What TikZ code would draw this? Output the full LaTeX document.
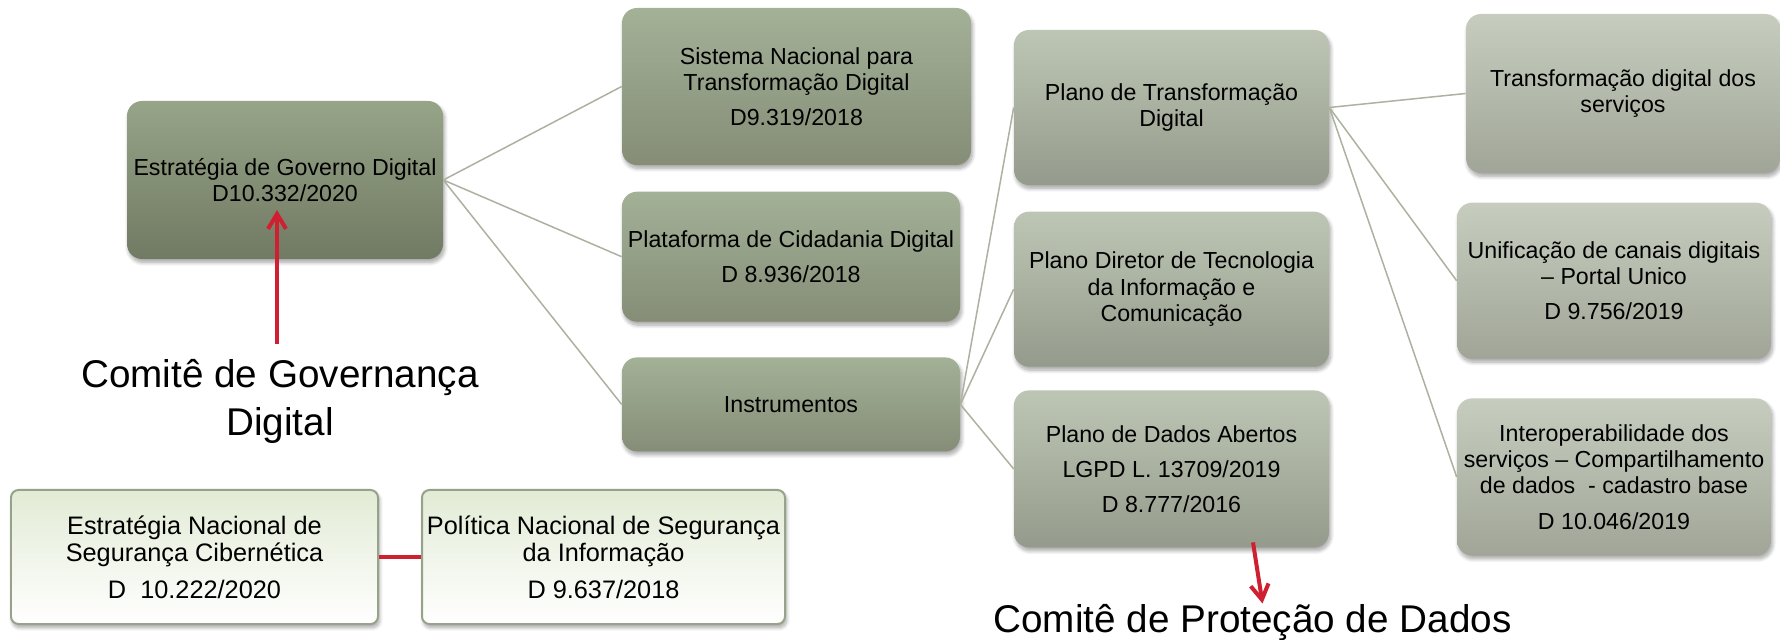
\documentclass[tikz,border=0pt]{standalone}
\usepackage{fontspec}
\setmainfont{Liberation Sans}
\usetikzlibrary{positioning,arrows.meta,shadows.blur}

\definecolor{olivetop}{RGB}{150,164,136}
\definecolor{olivebot}{RGB}{113,122,99}
\definecolor{sagetop}{RGB}{163,177,151}
\definecolor{sagebot}{RGB}{133,141,119}
\definecolor{greytop}{RGB}{189,198,180}
\definecolor{greybot}{RGB}{149,155,140}
\definecolor{paletop}{RGB}{198,205,191}
\definecolor{palebot}{RGB}{160,165,151}
\definecolor{mint}{RGB}{226,235,213}
\definecolor{mintline}{RGB}{150,162,138}
\definecolor{linkgrey}{RGB}{172,177,160}
\definecolor{arrowred}{RGB}{206,32,48}

\tikzset{
	box/.style={rounded corners=0.3cm, align=center, inner sep=0.05cm,
		font=\fontsize{13.2}{15}\selectfont,
		blur shadow={shadow xshift=0.03cm, shadow yshift=-0.07cm, shadow blur steps=8, shadow opacity=35}},
	lvlone/.style={box, top color=olivetop, bottom color=olivebot},
	lvltwo/.style={box, top color=sagetop, bottom color=sagebot, minimum width=6.76cm},
	lvlthree/.style={box, top color=greytop, bottom color=greybot, minimum width=6.3cm},
	lvlfour/.style={box, top color=paletop, bottom color=palebot, minimum width=6.28cm},
	secbox/.style={box, rounded corners=0.15cm, draw=mintline, line width=0.04cm,
		top color=mint, bottom color=white, minimum height=2.68cm,
		font=\fontsize{14.4}{15.7}\selectfont},
	link/.style={draw=linkgrey, line width=0.03cm},
	redarrow/.style={draw=arrowred, line width=0.08cm, -{Straight Barb[length=0.3cm, width=0.36cm]}},
	comite/.style={align=center, font=\fontsize{22}{27.3}\selectfont}
}

\begin{document}
\begin{tikzpicture}
		\useasboundingbox (0,0) rectangle (35.6,-12.8);

		\node[lvlone, minimum width=6.32cm, minimum height=3.16cm] (egd) at (5.7,-3.6) {Estratégia de Governo Digital\\D10.332/2020};
		\node[lvltwo, minimum width=6.98cm, minimum height=3.14cm] (snt) at (15.93,-1.73) {Sistema Nacional para\\Transformação Digital\\[5pt]D9.319/2018};
		\node[lvltwo, minimum height=2.6cm, below=0.52cm of snt.south west, anchor=north west] (pcd) {Plataforma de Cidadania Digital\\[5pt]D 8.936/2018};
		\node[lvltwo, minimum height=1.88cm, below=0.7cm of pcd] (ins) {Instrumentos};
		\node[lvlthree, minimum height=3.1cm] (ptd) at (23.43,-2.15) {Plano de Transformação\\Digital};
		\node[lvlthree, minimum height=3.1cm, below=0.52cm of ptd] (pdt) {Plano Diretor de Tecnologia\\da Informação e\\Comunicação};
		\node[lvlthree, minimum height=3.14cm, below=0.46cm of pdt] (pda) {Plano de Dados Abertos\\[5pt]LGPD L. 13709/2019\\[5pt]D 8.777/2016};
		\node[lvlfour, minimum height=3.18cm] (tds) at (32.46,-1.87) {Transformação digital dos\\serviços};
		\node[lvlfour, minimum height=3.12cm, below=0.58cm of tds, xshift=-0.18cm] (ucd) {Unificação de canais digitais\\– Portal Unico\\[5pt]D 9.756/2019};
		\node[lvlfour, minimum height=3.14cm, below=0.78cm of ucd] (ids) {Interoperabilidade dos\\serviços – Compartilhamento\\de dados\ \ - cadastro base\\[5pt]D 10.046/2019};
		\node[secbox, minimum width=7.34cm] (ensc) at (3.89,-11.14) {Estratégia Nacional de\\Segurança Cibernética\\[5pt]D\ \ 10.222/2020};
		\node[secbox, minimum width=7.26cm, right=0.84cm of ensc] (pnsi) {Política Nacional de Segurança\\da Informação\\[5pt]D 9.637/2018};
		\node[comite, inner sep=0.3cm] (cgd) at (5.6,-8.02) {Comitê de Governança\\Digital};
		\node[comite, inner sep=0.02cm] (cpd) at (25.05,-12.46) {Comitê de Proteção de Dados};
		\coordinate (govtip) at (5.54,-4.2);
		\coordinate (pdtail) at ([shift={(1.63,-1.47)}]pda.center);

		\draw[link] (egd.east) -- (snt.west);
		\draw[link] (egd.east) -- (pcd.west);
		\draw[link] (egd.east) -- (ins.west);
		\draw[link] (ins.east) -- (ptd.west);
		\draw[link] (ins.east) -- (pdt.west);
		\draw[link] (ins.east) -- (pda.west);
		\draw[link] (ptd.east) -- (tds.west);
		\draw[link] (ptd.east) -- (ucd.west);
		\draw[link] (ptd.east) -- (ids.west);
		\draw[draw=arrowred, line width=0.08cm] (ensc.east) -- (pnsi.west);
		\draw[redarrow] (cgd.north -| govtip) -- (govtip);
		\draw[redarrow] (pdtail) -- ([xshift=0.2cm]cpd.north);
\end{tikzpicture}
\end{document}
